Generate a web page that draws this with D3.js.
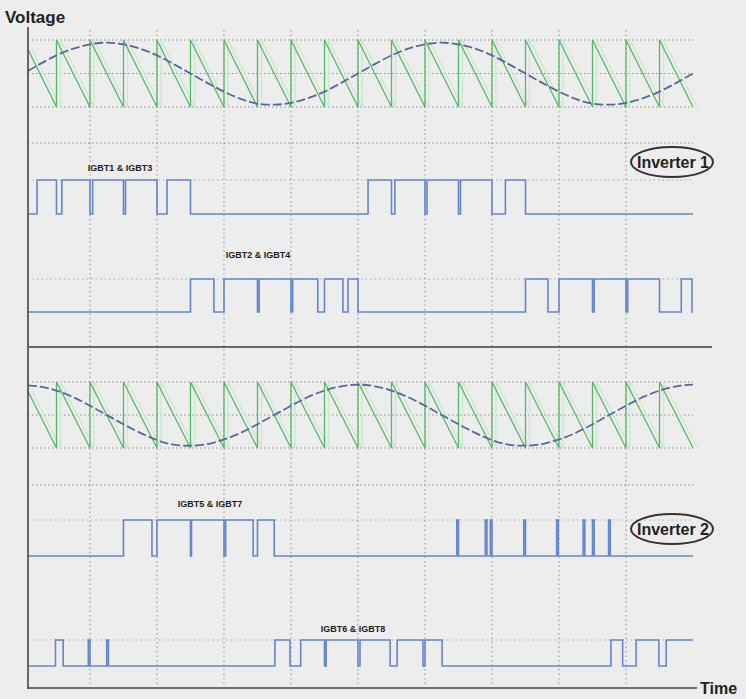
<!DOCTYPE html>
<html>
<head>
<meta charset="utf-8">
<script src="https://cdn.jsdelivr.net/npm/d3@7"></script>
<style>
  html, body { margin: 0; padding: 0; background: #eeedee; }
  svg { display: block; }
  text { font-family: "Liberation Sans", Arial, sans-serif; font-weight: bold; fill: #222; }
</style>
</head>
<body>
<svg id="chart" width="746" height="699"></svg>
<script>
// Time runs in carrier periods; the view starts a little after t = 0.
const tStart = 0.15, tEnd = 20;
const gridTimes = [2, 4, 6, 8, 10, 12, 14, 16, 18, 20];

// Sawtooth carrier: resets (jump from -1 back to +1) at each of these times.
const carrierResets = [1, 2, 3, 4, 5, 6, 7, 8, 9, 10, 11, 12, 13, 14, 15, 16, 17, 18, 19, 20];
const carrierStartValue = 0.72; // carrier level where the trace begins

// Reference waves, sampled every half period (t, value).
const refTimes = [0.15, 0.5, 1, 1.5, 2, 2.5, 3, 3.5, 4, 4.5, 5, 5.5, 6, 6.5, 7, 7.5, 8, 8.5, 9, 9.5, 10,
                  10.5, 11, 11.5, 12, 12.5, 13, 13.5, 14, 14.5, 15, 15.5, 16, 16.5, 17, 17.5, 18, 18.5, 19, 19.5, 20];
const refWave1 = [0.08, 0.28, 0.54, 0.74, 0.87, 0.92, 0.87, 0.74, 0.54, 0.28, 0.0, -0.28, -0.54, -0.76, -0.9, -0.93, -0.88, -0.74, -0.54, -0.28, 0.0,
                  0.28, 0.54, 0.74, 0.87, 0.92, 0.87, 0.74, 0.54, 0.28, 0.0, -0.28, -0.54, -0.76, -0.9, -0.93, -0.88, -0.74, -0.54, -0.28, 0.0];
const refWave2 = [0.9, 0.86, 0.74, 0.54, 0.28, 0.0, -0.28, -0.54, -0.76, -0.9, -0.93, -0.88, -0.74, -0.54, -0.28, 0.0, 0.28, 0.54, 0.74, 0.87, 0.92,
                  0.87, 0.74, 0.54, 0.28, 0.0, -0.28, -0.54, -0.76, -0.9, -0.93, -0.88, -0.74, -0.54, -0.28, 0.0, 0.28, 0.54, 0.74, 0.87, 0.92];

// Gate signals: [on, off] intervals in carrier periods.
const gateA = [[0.42, 1.0], [1.16, 2.0], [2.08, 3.0], [3.06, 4.0], [4.3, 5.0],
               [10.3, 11.0], [11.1, 12.0], [12.06, 13.0], [13.06, 14.0], [14.4, 15.0]];
const gateB = [[5.0, 5.7], [6.0, 7.0], [7.05, 8.0], [8.05, 8.8], [9.0, 9.55], [9.7, 10.0],
               [15.0, 15.67], [16.0, 17.0], [17.05, 18.0], [18.05, 19.0], [19.65, 19.97]];
const gateC = [[3.0, 3.85], [4.0, 5.0], [5.03, 6.0], [6.05, 6.87], [7.0, 7.5],
               [12.95, 13.0], [13.8, 13.85], [13.95, 14.0], [14.95, 15.0], [15.93, 15.98], [16.72, 16.77], [17.0, 17.05], [17.48, 17.53]];
const gateD = [[0.97, 1.2], [1.95, 2.0], [2.5, 2.55],
               [7.52, 7.97], [8.29, 9.0], [9.05, 10.0], [10.06, 10.96], [11.17, 11.94], [12.0, 12.51],
               [17.55, 17.9], [18.3, 18.98], [19.2, 20.0]];

const gateLabels = ["IGBT1 & IGBT3", "IGBT2 & IGBT4", "IGBT5 & IGBT7", "IGBT6 & IGBT8"];
const inverterLabels = ["Inverter 1", "Inverter 2"];

const svg = d3.select("#chart");
const x = d3.scaleLinear().domain([tStart, tEnd]).range([28, 693]);

// Vertical placement of each strip.
const carrierY = [
  d3.scaleLinear().domain([-1, 1]).range([107, 40]),
  d3.scaleLinear().domain([-1, 1]).range([448, 382])
];
const gateStrips = [
  { data: gateA, y: d3.scaleLinear().domain([0, 1]).range([214, 180]), guide: 143, label: gateLabels[0], lx: 120, ly: 171 },
  { data: gateB, y: d3.scaleLinear().domain([0, 1]).range([312, 279]), guide: null, label: gateLabels[1], lx: 258, ly: 258 },
  { data: gateC, y: d3.scaleLinear().domain([0, 1]).range([556, 520]), guide: 485, label: gateLabels[2], lx: 210, ly: 507 },
  { data: gateD, y: d3.scaleLinear().domain([0, 1]).range([666, 640]), guide: null, label: gateLabels[3], lx: 353, ly: 632 }
];

const dotted = "#8f8f8f";

// Vertical grid
svg.append("g").selectAll("line").data(gridTimes.filter(t => t < tEnd)).join("line")
  .attr("x1", d => x(d)).attr("x2", d => x(d))
  .attr("y1", 30).attr("y2", 686)
  .attr("stroke", dotted).attr("stroke-width", 1).attr("stroke-dasharray", "1.5,3");

// Carrier strips: horizontal reference lines, sawtooth, reference wave
const sawPoints = [];
sawPoints.push([tStart, carrierStartValue]);
carrierResets.forEach(t => { sawPoints.push([t, -1]); if (t < tEnd) sawPoints.push([t, 1]); });
const refWaves = [refWave1, refWave2];

carrierY.forEach((y, i) => {
  const g = svg.append("g");
  g.selectAll("line").data([1, 0, -1]).join("line")
    .attr("x1", x(tStart)).attr("x2", x(tEnd))
    .attr("y1", d => y(d)).attr("y2", d => y(d))
    .attr("stroke", dotted).attr("stroke-width", 1).attr("stroke-dasharray", "1.5,2.5");
  const saw = d3.line().x(d => x(d[0])).y(d => y(d[1]));
  // faint ghost trace beside the carrier
  g.append("path").attr("d", saw(sawPoints)).attr("fill", "none")
    .attr("stroke", "#cbe9cf").attr("stroke-width", 1.4).attr("transform", "translate(4,0)");
  g.append("path").attr("d", saw(sawPoints)).attr("fill", "none")
    .attr("stroke", "#56b866").attr("stroke-width", 1.3);
  const wave = d3.line().curve(d3.curveNatural).x((d, k) => x(refTimes[k])).y(d => y(d));
  g.append("path").attr("d", wave(refWaves[i])).attr("fill", "none")
    .attr("stroke", "#55699c").attr("stroke-width", 1.8).attr("stroke-dasharray", "9,3");
});

// Gate signal strips
gateStrips.forEach(s => {
  const g = svg.append("g");
  if (s.guide !== null) {
    g.append("line").attr("x1", x(tStart)).attr("x2", x(tEnd))
      .attr("y1", s.guide).attr("y2", s.guide)
      .attr("stroke", dotted).attr("stroke-dasharray", "1.5,2.5");
  }
  g.append("line").attr("x1", x(tStart)).attr("x2", x(tEnd))
    .attr("y1", s.y(1)).attr("y2", s.y(1))
    .attr("stroke", "#a8a8b0").attr("stroke-dasharray", "1.5,3");
  const pts = [[tStart, 0]];
  s.data.forEach(([a, b]) => {
    pts.push([a, 0], [a, 1], [b, 1]);
    if (b < tEnd) pts.push([b, 0]);
  });
  if (s.data[s.data.length - 1][1] < tEnd) pts.push([tEnd, 0]);
  const line = d3.line().x(d => x(d[0])).y(d => s.y(d[1]));
  g.append("path").attr("d", line(pts)).attr("fill", "none")
    .attr("stroke", "#6486cc").attr("stroke-width", 1.6);
  g.append("text").attr("x", s.lx).attr("y", s.ly).attr("text-anchor", "middle")
    .attr("font-size", 9).attr("fill", "#333").text(s.label);
});

// Inverter tags
[{ cy: 162, t: inverterLabels[0] }, { cy: 529, t: inverterLabels[1] }].forEach(d => {
  svg.append("ellipse").attr("cx", 672).attr("cy", d.cy).attr("rx", 41).attr("ry", 15)
    .attr("fill", "none").attr("stroke", "#333").attr("stroke-width", 2);
  svg.append("text").attr("x", 673).attr("y", d.cy + 6).attr("text-anchor", "middle")
    .attr("font-size", 16).attr("fill", "#2a2a2a").text(d.t);
});

// Axes frame
svg.append("line").attr("x1", 28).attr("x2", 28).attr("y1", 27).attr("y2", 689)
  .attr("stroke", "#444").attr("stroke-width", 1.6);
svg.append("line").attr("x1", 28).attr("x2", 712).attr("y1", 347).attr("y2", 347)
  .attr("stroke", "#666").attr("stroke-width", 2);
svg.append("line").attr("x1", 28).attr("x2", 697).attr("y1", 688).attr("y2", 688)
  .attr("stroke", "#444").attr("stroke-width", 1.6);

svg.append("text").attr("x", 5).attr("y", 23).attr("font-size", 17).text("Voltage");
svg.append("text").attr("x", 700).attr("y", 694).attr("font-size", 16).text("Time");
</script>
</body>
</html>
